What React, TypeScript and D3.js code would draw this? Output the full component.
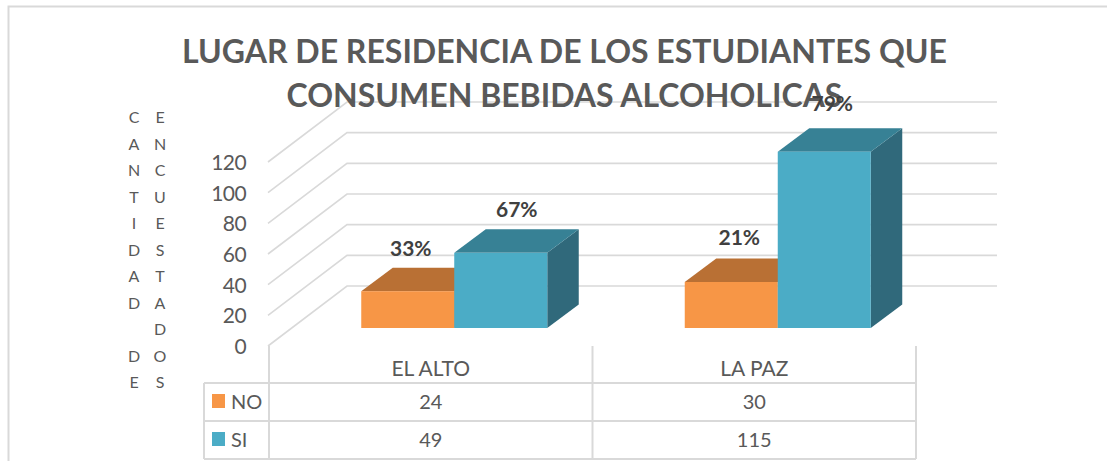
import React from "react";
import * as d3 from "d3";

const titleLines = ["LUGAR DE RESIDENCIA DE LOS ESTUDIANTES QUE", "CONSUMEN BEBIDAS ALCOHOLICAS"];
const categories = ["EL ALTO", "LA PAZ"];
const seriesNames = ["NO", "SI"];
const noValues = [24, 30];
const siValues = [49, 115];
const noLabels = ["33%", "21%"];
const siLabels = ["67%", "79%"];
const yTicks = [0, 20, 40, 60, 80, 100, 120];
const axisCol1 = "CANTIDAD DE".split("");
const axisCol2 = "ENCUESTADOS".split("");

const FONT = "Lato, 'Open Sans', sans-serif";
const GRID = "#d9d9d9";
const TEXT = "#595959";
const seriesColors = [
  { front: "#f79646", top: "#b97034", side: "#b97034" },
  { front: "#4bacc6", top: "#378195", side: "#30697b" },
];

const depthX = 31.5;
const depthY = 23.5;
const wallDX = 79;
const wallDY = 60;
const wallRight = 997;
const floorY = 346;
const tableLeft = 204;
const plotLeft = 269;
const plotRight = 916;
const rowY = [383, 421, 459];

const h = d3.scaleLinear().domain([0, 120]).range([0, 184]);
const xBand = d3.scaleBand<string>().domain(categories).range([plotLeft, plotRight]);
const barW = 93;
const barBase = 328;

function Bar({ x, value, c }: { x: number; value: number; c: (typeof seriesColors)[0] }) {
  const top = barBase - h(value);
  const p = (pts: number[][]) => pts.map((d) => d.join(",")).join(" ");
  return (
    <g>
      <polygon fill={c.side} points={p([[x + barW, top], [x + barW + depthX, top - depthY], [x + barW + depthX, barBase - depthY], [x + barW, barBase]])} />
      <polygon fill={c.top} points={p([[x, top], [x + depthX, top - depthY], [x + barW + depthX, top - depthY], [x + barW, top]])} />
      <rect x={x} y={top} width={barW} height={h(value)} fill={c.front} />
    </g>
  );
}

export default function App() {
  return (
    <svg width={1107} height={461} style={{ position: "absolute", left: 0, top: 0, background: "#fff" }} fontFamily={FONT}>
      <path d="M8.5,461 V6.5 H1107" fill="none" stroke={GRID} strokeWidth={2} />
      {yTicks.map((t) => {
        const y0 = floorY - h(t);
        return (
          <g key={t}>
            <polyline points={`${plotLeft - 1},${y0} ${plotLeft - 1 + wallDX},${y0 - wallDY} ${wallRight},${y0 - wallDY}`} fill="none" stroke={GRID} strokeWidth={1.6} />
            <text x={246} y={y0 + 8} textAnchor="end" fontSize={21} letterSpacing={-0.6} fill={TEXT}>{t}</text>
          </g>
        );
      })}
      {titleLines.map((l, i) => (
        <text key={l} x={564.5} y={62.5 + i * 44.5} textAnchor="middle" fontSize={32} fontWeight={700} fill={TEXT}>{l}</text>
      ))}
      {axisCol1.map((ch, i) => (
        <text key={i} x={134} y={123 + i * 26.5} textAnchor="middle" fontSize={16} fill={TEXT}>{ch}</text>
      ))}
      {axisCol2.map((ch, i) => (
        <text key={i} x={160} y={123 + i * 26.5} textAnchor="middle" fontSize={16} fill={TEXT}>{ch}</text>
      ))}
      {categories.map((cat, i) => {
        const b0 = (xBand(cat) as number) + xBand.bandwidth() / 2 + 23.5;
        const xNo = b0 - barW;
        return (
          <g key={cat}>
            <Bar x={xNo} value={noValues[i]} c={seriesColors[0]} />
            <Bar x={b0} value={siValues[i]} c={seriesColors[1]} />
            <text x={xNo + barW / 2 + (i === 0 ? 3 : 8)} y={barBase - h(noValues[i]) - depthY - 12 + (i === 0 ? 0 : -2)} textAnchor="middle" fontSize={21} fontWeight={700} fill="#404040">{noLabels[i]}</text>
            <text x={b0 + barW / 2 + (i === 0 ? 16 : 8)} y={barBase - h(siValues[i]) - depthY - 12 + (i === 0 ? 0 : -5)} textAnchor="middle" fontSize={21} fontWeight={700} fill="#404040">{siLabels[i]}</text>
          </g>
        );
      })}
      <g stroke={GRID} strokeWidth={2} fill="none">
        <path d={`M${plotLeft},${floorY} V${rowY[2]}`} />
        {categories.map((cat) => (
          <path key={cat} d={`M${(xBand(cat) as number) + xBand.bandwidth()},${floorY} V${rowY[2]}`} />
        ))}
        {rowY.map((y) => (
          <path key={y} d={`M${tableLeft},${y} H${plotRight}`} />
        ))}
        <path d={`M${tableLeft},${rowY[0]} V${rowY[2]}`} />
      </g>
      {categories.map((cat, i) => {
        const cx = (xBand(cat) as number) + xBand.bandwidth() / 2;
        return (
          <g key={cat} fill={TEXT} textAnchor="middle">
            <text x={cx} y={376} fontSize={21}>{cat}</text>
            <text x={cx} y={409} fontSize={20}>{noValues[i]}</text>
            <text x={cx} y={447} fontSize={20}>{siValues[i]}</text>
          </g>
        );
      })}
      {seriesNames.map((s, i) => (
        <g key={s}>
          <rect x={212} y={394 + i * 38} width={13} height={14} fill={seriesColors[i].front} />
          <text x={231} y={409 + i * 38} fontSize={20} fill={TEXT}>{s}</text>
        </g>
      ))}
    </svg>
  );
}
